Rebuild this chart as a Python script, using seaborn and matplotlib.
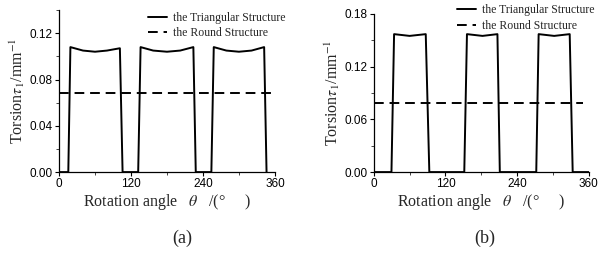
import numpy as np
import pandas as pd
import matplotlib
matplotlib.use("Agg")
import matplotlib.pyplot as plt
from matplotlib.ticker import AutoMinorLocator, FormatStrFormatter
import seaborn as sns

# ---- data ----
# panel (a)
tri_a_angle = [0, 15.5, 19, 40, 60, 80, 101.5, 106, 132, 136, 157, 180, 202, 224, 228,
               254, 258, 279, 300, 321, 342, 346]
tri_a_torsion = [0, 0, 0.108, 0.105, 0.104, 0.105, 0.107, 0, 0, 0.108, 0.105, 0.104, 0.105,
                 0.108, 0, 0, 0.108, 0.105, 0.104, 0.105, 0.108, 0]
round_a_angle = [0, 360]
round_a_torsion = [0.068, 0.068]

# panel (b)
tri_b_angle = [0, 29.6, 34, 60, 87, 93, 151.5, 156, 182, 207, 211, 272, 276, 302, 328, 333, 360]
tri_b_torsion = [0, 0, 0.157, 0.155, 0.157, 0, 0, 0.157, 0.155, 0.157, 0, 0, 0.157, 0.155,
                 0.157, 0, 0]
round_b_angle = [0, 350]
round_b_torsion = [0.079, 0.079]

x_ticks = [0, 120, 240, 360]
ya_ticks = [0.00, 0.04, 0.08, 0.12]
yb_ticks = [0.00, 0.06, 0.12, 0.18]

sns.set_theme(style="ticks")
plt.rcParams["font.family"] = ["Liberation Serif", "DejaVu Serif"]
plt.rcParams["mathtext.fontset"] = "stix"

fig = plt.figure(figsize=(5.99, 2.58), dpi=100)
ax_a = fig.add_axes([0.0985, 0.333, 0.3605, 0.628])
ax_b = fig.add_axes([0.624, 0.333, 0.359, 0.613])


def draw(ax, ta, tv, ra, rv, yticks, ytop, leg_anchor):
    sns.lineplot(x=ta, y=tv, ax=ax, color="black", lw=1.4, sort=False, estimator=None,
                 label="the Triangular Structure")
    sns.lineplot(x=ra, y=rv, ax=ax, color="black", lw=1.4, sort=False, estimator=None,
                 label="the Round Structure")
    ax.lines[1].set_linestyle((0, (5, 3)))
    ax.set_xlim(0, 360)
    ax.set_ylim(0, ytop)
    ax.set_xticks(x_ticks)
    ax.set_yticks(yticks)
    ax.xaxis.set_minor_locator(AutoMinorLocator(2))
    ax.yaxis.set_minor_locator(AutoMinorLocator(2))
    ax.yaxis.set_major_formatter(FormatStrFormatter("%.2f"))
    for lab in ax.get_xticklabels() + ax.get_yticklabels():
        lab.set_family("Liberation Sans")
        lab.set_fontsize(8.5)
    ax.tick_params(which="major", direction="out", length=3, width=0.8, pad=1.5,
                   colors="black")
    ax.tick_params(which="minor", direction="out", length=2, width=0.6)
    for s in ["left", "bottom"]:
        ax.spines[s].set_color("black")
        ax.spines[s].set_linewidth(0.9)
    sns.despine(ax=ax)
    ax.set_xlabel(r"Rotation angle   $\theta$   /(°     )", fontsize=11.5, labelpad=1)
    ax.set_ylabel(r"Torsion$\tau_1$/mm$^{-1}$", fontsize=11.5, labelpad=2)
    ax.legend(loc="upper left", frameon=False, fontsize=8.5, handlelength=1.6,
              handletextpad=0.5, labelspacing=0.3, borderaxespad=0, borderpad=0,
              bbox_to_anchor=leg_anchor)


draw(ax_a, tri_a_angle, tri_a_torsion, round_a_angle, round_a_torsion, ya_ticks, 0.14,
     (0.412, 0.99))
draw(ax_b, tri_b_angle, tri_b_torsion, round_b_angle, round_b_torsion, yb_ticks, 0.18,
     (0.386, 1.06))

fig.text(0.304, 0.077, "(a)", fontsize=13, ha="center", va="center")
fig.text(0.81, 0.077, "(b)", fontsize=13, ha="center", va="center")

fig.savefig("out.png", dpi=100)
